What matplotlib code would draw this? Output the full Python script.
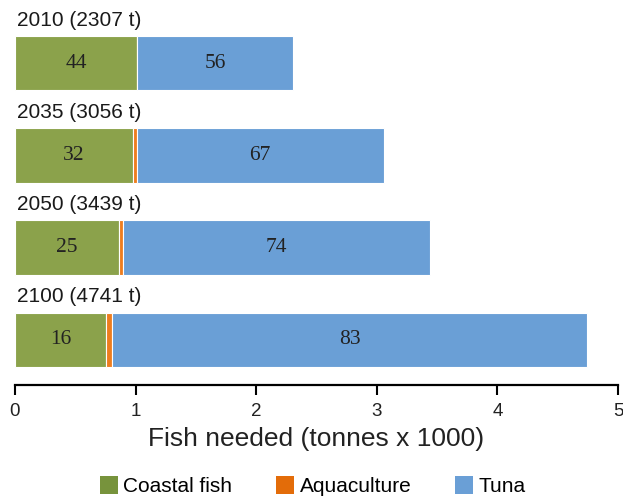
import numpy as np
import matplotlib.pyplot as plt
from matplotlib.patches import Patch

# Projected fish demand per year (thousand tonnes) and share by source (%)
years = ['2010', '2035', '2050', '2100']
totals_t = [2307, 3056, 3439, 4741]
coastal_pct = [44, 32, 25, 16]
aqua_pct = [0, 1, 1, 1]
tuna_pct = [56, 67, 74, 83]

bar_colors = ['#8BA24B', '#EE7D1F', '#6A9FD6']
legend_colors = ['#77933C', '#E36C09', '#6A9FD6']
sources = ['Coastal fish', 'Aquaculture', 'Tuna']

plt.rcParams['font.family'] = ['Liberation Sans', 'DejaVu Sans']

fig = plt.figure(figsize=(6.23, 4.97), dpi=100)
ax = fig.add_axes([15 / 623, 112 / 497, 603 / 623, 385 / 497])

totals = np.array(totals_t) / 1000.0
shares = np.array([coastal_pct, aqua_pct, tuna_pct], dtype=float)
# scale shares so the segments add up to the stated total
widths = shares / shares.sum(axis=0) * totals
y = np.arange(len(years))
h = 0.59

left = np.zeros(len(years))
for k in range(3):
    ax.barh(y, widths[k], left=left, height=h, color=bar_colors[k],
            edgecolor='white', linewidth=0.8)
    if k != 1:
        pct = [coastal_pct, aqua_pct, tuna_pct][k]
        for i in range(len(years)):
            ax.text(left[i] + widths[k][i] / 2, y[i], str(pct[i]),
                    ha='center', va='center', fontsize=15.5,
                    family='Liberation Serif', color='#222222')
    left = left + widths[k]

for i in range(len(years)):
    ax.text(0.02, y[i] - h / 2 - 0.07, f'{years[i]} ({totals_t[i]} t)',
            ha='left', va='bottom', fontsize=15, color='#1a1a1a')

ax.set_xlim(0, 5)
ax.set_ylim(3.49, -0.685)
ax.set_yticks([])
ax.set_xticks(range(6))
for s in ['top', 'right', 'left']:
    ax.spines[s].set_visible(False)
ax.spines['bottom'].set_linewidth(1.6)
ax.tick_params(axis='x', length=7, width=1.5, labelsize=13.5, pad=6,
               labelcolor='#222222')
ax.set_xlabel('Fish needed (tonnes x 1000)', fontsize=19, color='#222222',
              labelpad=5)

handles = [Patch(facecolor=c, label=l) for c, l in zip(legend_colors, sources)]
fig.legend(handles=handles, loc='center', ncol=3, frameon=False,
           fontsize=15, handlelength=0.87, handleheight=0.95,
           handletextpad=0.25, columnspacing=2.1,
           bbox_to_anchor=(0.502, 0.022))

fig.savefig('out.png', dpi=100)
